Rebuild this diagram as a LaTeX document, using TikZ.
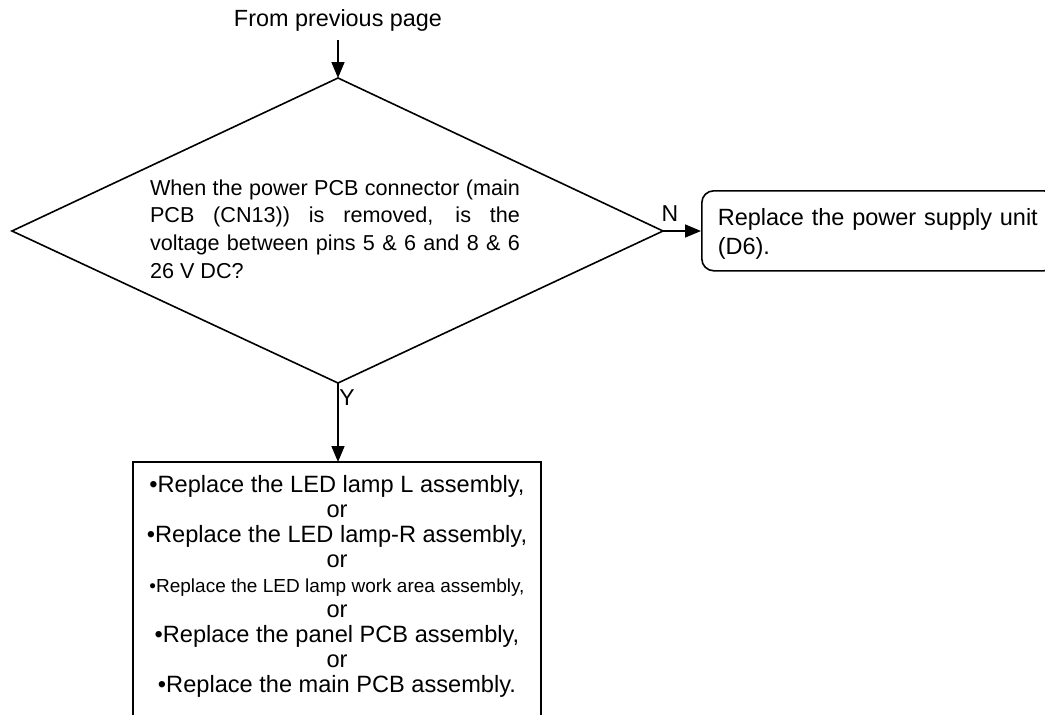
\documentclass[tikz,border=0pt]{standalone}
\usepackage{fontspec}
\setmainfont{Liberation Sans}
\usepackage{graphicx}
\usetikzlibrary{arrows.meta}
\newsavebox\reflinebox
\begin{document}
\sbox\reflinebox{\fontsize{23.6}{25}\selectfont •Replace the LED lamp L assembly,}
\begin{tikzpicture}[x=1pt,y=-1pt,line width=1.6pt,
  arr/.style={-{Triangle[length=16pt,width=13pt]}},
  txt/.style={font=\fontsize{23.4}{25}\selectfont, inner sep=0pt},
  lbl/.style={font=\fontsize{23}{24}\selectfont, inner sep=0pt}]
\useasboundingbox (0,0) rectangle (1045,715);
% top
\node[txt] (from) at (338,20) {From previous page};
\coordinate (ftop) at (338,40);
% diamond
\coordinate (T) at (338,78);
\coordinate (L) at (12,231);
\coordinate (R) at (663,231);
\coordinate (B) at (338,383);
\draw[line join=miter] (T) -- (R) -- (B) -- (L) -- cycle;
\draw[arr] (ftop) -- (T);
\node[txt, align=left, font=\fontsize{21.6}{27.7}\selectfont] (q) at (335,229) {%
\makebox[370pt][s]{When the power PCB connector (main}\\
\makebox[370pt][s]{PCB (CN13)) is removed, is the}\\
\makebox[370pt][s]{voltage between pins 5 \& 6 and 8 \& 6}\\
\makebox[370pt][l]{26 V DC?}};
% N branch
\node[draw, rounded corners=12pt, anchor=north west, minimum width=343pt, minimum height=80pt,
  text width=322pt, align=left, inner xsep=16pt, inner ysep=4pt, font=\fontsize{23.5}{29}\selectfont] (p) at (701,190)
  {\rule{0pt}{24pt}Replace the power supply unit\\(D6).};
\draw[arr] (R) -- (R -| p.west);
\node[lbl] (n) at (670,214) {N};
% Y branch
\coordinate (bl) at (133,716);
\coordinate (tl) at (133,462);
\coordinate (tr) at (541,462);
\coordinate (br) at (541,716);
\coordinate (btop) at (338,462);
\draw[line join=miter] (bl) -- (tl) -- (tr) -- (br);
\draw[arr] (B) -- (btop);
\node[lbl] (y) at (347,398) {Y};
\node[txt, align=center, font=\fontsize{23.6}{25}\selectfont] (list) at (337,586) {%
•Replace the LED lamp L assembly,\\
or\\
•Replace the LED lamp-R assembly,\\
or\\
\resizebox{\wd\reflinebox}{0.8\height}{•Replace the LED lamp work area assembly,}\\
or\\
•Replace the panel PCB assembly,\\
or\\
•Replace the main PCB assembly.};
\end{tikzpicture}
\end{document}
